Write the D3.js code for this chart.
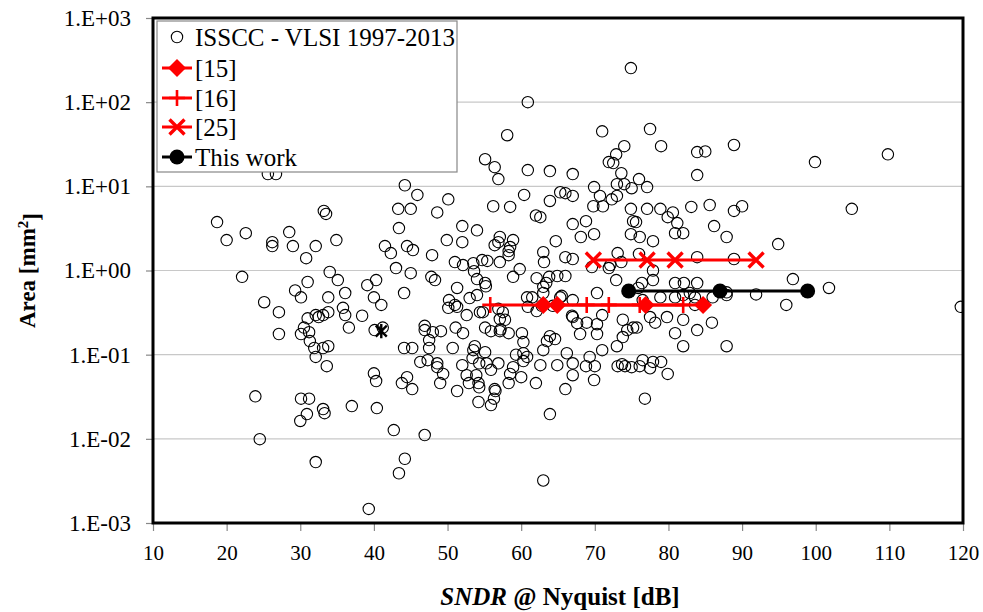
<!DOCTYPE html>
<html>
<head>
<meta charset="utf-8">
<script src="https://cdn.jsdelivr.net/npm/d3@7"></script>
<style>
  body { margin: 0; background: #fff; }
  svg { display: block; }
  text { font-family: "Liberation Serif", "Times New Roman", serif; fill: #000; }
</style>
</head>
<body>
<svg id="chart" width="983" height="612"></svg>
<script>
// Axis ticks
const xTicks = [10, 20, 30, 40, 50, 60, 70, 80, 90, 100, 110, 120];
const yTicks = [1e-3, 1e-2, 1e-1, 1e0, 1e1, 1e2, 1e3];
const yTickLabels = ["1.E-03", "1.E-02", "1.E-01", "1.E+00", "1.E+01", "1.E+02", "1.E+03"];

// ISSCC / VLSI survey 1997-2013: [SNDR @ Nyquist (dB), area (mm^2)]
const survey = [
  [25.6,14],[26.7,14],[44.2,10.3],[74.9,254],[60.9,100],[58.1,40.5],[71.0,45],[77.5,48],[74.0,30],[79.0,30],
  [55.1,21],[56.4,16.9],[56.9,12.2],[60.9,15.6],[63.9,15.2],[67.0,14],[72.9,24],[71.9,19.4],[72.5,18.9],[73.6,14.3],
  [73.0,10.6],[74.0,10.6],[76.0,12.2],[77.1,9.8],[69.9,9.8],[65.3,8.5],[66.0,8.3],[83.9,25.5],[83.9,13.6],[75.0,9.5],
  [85.0,26],[88.9,31],[99.9,19.4],[109.8,24],
  [45.9,7.9],[43.3,5.4],[45.0,5.4],[43.4,3.19],[33.2,5.1],[33.5,4.7],[18.7,3.76],[20.0,2.3],[22.6,2.78],[28.5,2.86],
  [26.2,2.17],[26.2,1.95],[29.0,1.95],[32.1,1.95],[30.8,1.4],[34.9,2.3],[41.5,1.95],[42.3,1.61],[44.5,1.95],[45.3,1.75],
  [47.9,1.52],[43.0,1.07],[45.0,0.93],[22.1,0.84],[34.0,0.96],[35.1,0.77],[31.0,0.73],[29.3,0.58],[30.1,0.48],[33.8,0.48],
  [36.1,0.54],[39.1,0.67],[40.3,0.77],[40.0,0.48],[41.0,0.39],[44.1,0.54],[47.8,0.84],[25.1,0.42],[27.1,0.32],[27.1,0.176],
  [31.0,0.27],[32.1,0.295],[32.5,0.28],[33.1,0.295],[33.8,0.32],[35.8,0.36],[36.1,0.295],[38.4,0.29],[36.6,0.21],[30.5,0.21],
  [30.1,0.176],[31.2,0.185],[31.3,0.145],[31.9,0.12],[33.1,0.12],[33.8,0.126],[32.1,0.094],[40.1,0.196],[41.2,0.21],[44.1,0.12],
  [45.2,0.12],[46.9,0.22],[46.9,0.196],[47.5,0.149],[47.5,0.12],[46.3,0.082],[48.0,0.185],
  [50.1,7.0],[60.4,7.9],[67.0,7.7],[70.7,7.7],[73.0,7.7],[72.3,7.0],[63.9,6.7],[56.2,5.8],[58.5,5.7],[69.8,5.8],
  [71.1,5.8],[74.9,5.4],[77.1,5.4],[78.9,5.4],[80.6,4.9],[83.1,5.7],[48.6,4.9],[62.0,4.5],[62.6,4.3],[52.0,3.37],
  [54.0,3.0],[67.0,3.56],[68.8,3.86],[75.2,3.86],[75.6,3.76],[79.9,4.3],[81.2,3.66],[49.9,2.3],[52.0,2.17],[57.1,2.5],
  [56.9,2.17],[56.4,2.0],[58.5,1.9],[58.3,1.7],[58.9,2.3],[64.7,2.23],[68.1,2.5],[69.9,2.7],[74.9,2.7],[76.1,2.5],
  [77.9,2.23],[80.9,2.78],[82.0,2.78],[51.0,1.26],[52.1,1.16],[53.5,1.22],[54.7,1.33],[55.4,1.3],[57.1,1.26],[58.3,1.52],
  [63.0,1.65],[63.1,1.26],[66.0,1.44],[67.0,1.37],[73.1,1.61],[72.1,1.16],[71.9,1.07],[73.6,1.26],[69.6,1.1],[76.0,1.57],
  [77.9,1.0],[59.8,1.04],[58.9,0.84],[64.9,0.86],[66.0,0.86],[48.3,0.77],[53.6,0.98],[54.0,0.79],[55.1,0.71],[62.1,0.81],
  [63.4,0.71],[63.8,0.84],[72.9,0.77],[76.4,0.71],[77.9,0.77],[80.9,0.71],[82.1,0.71],[83.9,0.71],[51.3,0.62],[55.2,0.65],
  [63.0,0.64],[63.0,0.54],[65.5,0.5],[67.0,0.445],[70.3,0.54],[75.9,0.62],[76.5,0.445],[78.9,0.48],[80.9,0.48],[82.0,0.51],
  [53.0,0.47],[54.0,0.51],[50.2,0.445],[50.1,0.36],[51.0,0.39],[51.3,0.37],[54.4,0.32],[54.8,0.32],[56.9,0.35],[57.5,0.32],
  [52.6,0.295],[57.8,0.26],[57.1,0.265],[60.8,0.48],[61.5,0.48],[60.9,0.37],[62.1,0.33],[62.8,0.38],[64.3,0.38],[65.3,0.48],
  [66.9,0.29],[67.0,0.28],[67.6,0.237],[68.9,0.24],[70.3,0.23],[71.0,0.295],[73.8,0.26],[75.2,0.21],[74.4,0.196],[75.7,0.21],
  [77.5,0.28],[78.2,0.24],[79.8,0.28],[80.9,0.18],[82.0,0.26],[49.1,0.19],[51.1,0.21],[52.1,0.18],[55.1,0.21],[55.9,0.19],
  [57.1,0.19],[57.2,0.2],[58.3,0.18],[50.7,0.12],[53.7,0.126],[55.1,0.107],[60.1,0.18],[60.3,0.141],[63.5,0.145],[64.6,0.153],
  [63.9,0.166],[68.0,0.176],[70.3,0.176],[73.0,0.126],[73.8,0.162],[69.3,0.094],[66.2,0.104],[60.8,0.094],[59.3,0.1],[82.0,0.126],
  [85.6,6.0],[88.9,5.1],[90.0,5.8],[104.9,5.4],[86.2,3.37],[87.9,2.5],[94.9,2.06],[83.9,1.44],[88.9,1.37],[96.9,0.79],
  [101.8,0.62],[82.9,0.54],[83.6,0.48],[87.9,0.55],[87.9,0.51],[86.0,0.48],[91.9,0.52],[96.0,0.39],[83.6,0.39],[85.9,0.24],
  [83.9,0.196],[87.9,0.126],[119.7,0.37],
  [33.6,0.073],[23.9,0.032],[30.1,0.03],[31.2,0.03],[30.9,0.0197],[30.0,0.0163],[33.1,0.0226],[33.3,0.0202],[37.0,0.0245],[40.0,0.06],
  [40.3,0.0486],[40.4,0.0232],[47.3,0.086],[44.5,0.054],[43.8,0.046],[45.2,0.039],[42.7,0.0127],[46.9,0.0111],[24.5,0.0099],
  [32.1,0.0053],[44.2,0.0058],[43.4,0.0039],[39.3,0.00147],
  [48.6,0.079],[48.6,0.071],[49.4,0.059],[49.0,0.046],[51.3,0.037],[53.5,0.113],[53.4,0.091],[52.0,0.075],[52.6,0.057],[52.9,0.046],
  [53.9,0.057],[54.2,0.046],[54.3,0.041],[54.3,0.079],[55.3,0.079],[55.9,0.066],[56.9,0.079],[56.4,0.039],[56.5,0.037],[56.3,0.03],
  [55.9,0.0252],[54.2,0.0274],[60.3,0.104],[60.3,0.084],[58.9,0.071],[58.5,0.059],[58.3,0.046],[60.0,0.054],[62.6,0.075],[62.0,0.046],
  [64.9,0.075],[66.0,0.039],[67.0,0.079],[67.0,0.057],[63.9,0.0197],[68.8,0.073],[70.0,0.073],[69.9,0.05],[71.0,0.113],[73.1,0.073],
  [73.7,0.077],[74.1,0.073],[75.0,0.071],[76.1,0.073],[76.5,0.086],[77.5,0.069],[77.9,0.082],[79.0,0.082],[79.9,0.059],[76.8,0.03],
  [63.0,0.113],[63.0,0.0032]
];

// Highlighted designs
const ref15Sndr = [63.0, 64.9, 76.9, 84.7];
const ref15Area = [0.39, 0.39, 0.39, 0.39];
const ref16Sndr = [55.8, 68.9, 71.9, 76.1, 82.0];
const ref16Area = [0.39, 0.39, 0.39, 0.39, 0.39];
const ref25Sndr = [69.8, 77.1, 80.9, 91.9];
const ref25Area = [1.33, 1.33, 1.33, 1.33];
const thisWorkSndr = [74.6, 87.0, 98.9];
const thisWorkArea = [0.57, 0.57, 0.57];
const otherMark = [[41.0, 0.19]];

const legendLabels = ["ISSCC - VLSI 1997-2013", "[15]", "[16]", "[25]", "This work"];

const plot = { left: 153, right: 963, top: 18, bottom: 523 };
const RED = "#ff0000";
const SERIF = '"Liberation Serif", "Times New Roman", serif';

const svg = d3.select("#chart");
const x = d3.scaleLinear().domain([10, 120]).range([plot.left, plot.right]);
const y = d3.scaleLog().domain([1e-3, 1e3]).range([plot.bottom, plot.top]);

// Horizontal gridlines at each decade
svg.append("g")
  .selectAll("line")
  .data(yTicks.slice(1, -1))
  .join("line")
  .attr("x1", plot.left).attr("x2", plot.right)
  .attr("y1", d => y(d)).attr("y2", d => y(d))
  .attr("stroke", "#c8c8c8").attr("stroke-width", 1.2);

// Axes
const yAxis = svg.append("g")
  .attr("transform", `translate(${plot.left},0)`)
  .call(d3.axisLeft(y).tickValues(yTicks)
    .tickFormat((d, i) => yTickLabels[i]).tickSize(7).tickPadding(15));
const xAxis = svg.append("g")
  .attr("transform", `translate(0,${plot.bottom})`)
  .call(d3.axisBottom(x).tickValues(xTicks).tickFormat(d3.format("d")).tickSize(8).tickPadding(10));
[yAxis, xAxis].forEach(g => {
  g.select(".domain").remove();
  g.selectAll(".tick line").attr("stroke", "#888").attr("stroke-width", 1.2);
  g.selectAll(".tick text").style("font-family", SERIF).attr("fill", "#000");
});
yAxis.selectAll(".tick text").style("font-size", "23px");
xAxis.selectAll(".tick text").style("font-size", "21px").attr("dy", "0.9em");

// Clip for marks
svg.append("clipPath").attr("id", "plotClip")
  .append("rect")
  .attr("x", plot.left).attr("y", plot.top)
  .attr("width", plot.right - plot.left).attr("height", plot.bottom - plot.top);

const marks = svg.append("g").attr("clip-path", "url(#plotClip)");

// Survey points
marks.append("g")
  .selectAll("circle")
  .data(survey)
  .join("circle")
  .attr("cx", d => x(d[0])).attr("cy", d => y(d[1]))
  .attr("r", 5.7)
  .attr("fill", "none").attr("stroke", "#000").attr("stroke-width", 1.1);

// Other reference (black asterisk)
const star = r => `M${-r},${-r}L${r},${r}M${-r},${r}L${r},${-r}M0,${-r * 1.3}L0,${r * 1.3}`;
marks.append("g")
  .selectAll("path")
  .data(otherMark)
  .join("path")
  .attr("transform", d => `translate(${x(d[0])},${y(d[1])})`)
  .attr("d", star(5.5))
  .attr("stroke", "#000").attr("stroke-width", 2.4).attr("fill", "none");

const line = d3.line().x(d => x(d[0])).y(d => y(d[1]));
const zip = (a, b) => a.map((v, i) => [v, b[i]]);

const symbols = {
  diamond: r => `M0,${-r}L${r},0L0,${r}L${-r},0Z`,
  plus: r => `M${-r},0L${r},0M0,${-r}L0,${r}`,
  cross: r => `M${-r},${-r}L${r},${r}M${-r},${r}L${r},${-r}`
};

function drawSeries(pts, color, lineW, drawMark) {
  const g = marks.append("g");
  g.append("path").attr("d", line(pts))
    .attr("stroke", color).attr("stroke-width", lineW).attr("fill", "none");
  pts.forEach(p => drawMark(g.append("g").attr("transform", `translate(${x(p[0])},${y(p[1])})`)));
}

const markDiamond = (g) => g.append("path").attr("d", symbols.diamond(9)).attr("fill", RED);
const markPlus = (g) => g.append("path").attr("d", symbols.plus(8)).attr("stroke", RED).attr("stroke-width", 2.6).attr("fill", "none");
const markCross = (g) => g.append("path").attr("d", symbols.cross(7.5)).attr("stroke", RED).attr("stroke-width", 3.4).attr("fill", "none");
const markDot = (g) => g.append("circle").attr("r", 7.5).attr("fill", "#000");

drawSeries(zip(ref16Sndr, ref16Area), RED, 3, markPlus);
drawSeries(zip(ref15Sndr, ref15Area), RED, 3, markDiamond);
drawSeries(zip(ref25Sndr, ref25Area), RED, 3, markCross);
drawSeries(zip(thisWorkSndr, thisWorkArea), "#000", 3, markDot);

// Plot frame
svg.append("rect")
  .attr("x", plot.left).attr("y", plot.top)
  .attr("width", plot.right - plot.left).attr("height", plot.bottom - plot.top)
  .attr("fill", "none").attr("stroke", "#000").attr("stroke-width", 3);

// Legend
const lg = svg.append("g");
lg.append("rect").attr("x", 157).attr("y", 21).attr("width", 300).attr("height", 151)
  .attr("fill", "#fff").attr("stroke", "#888").attr("stroke-width", 1.2);
const rowY = [37, 68, 98, 127, 157];
const mk = [
  g => g.append("circle").attr("r", 5.7).attr("fill", "none").attr("stroke", "#000").attr("stroke-width", 1.1),
  markDiamond, markPlus, markCross, markDot
];
legendLabels.forEach((lab, i) => {
  const row = lg.append("g").attr("transform", `translate(0,${rowY[i]})`);
  if (i > 0) {
    row.append("line").attr("x1", 162).attr("x2", 192).attr("y1", 0).attr("y2", 0)
      .attr("stroke", i === 4 ? "#000" : RED).attr("stroke-width", 3);
  }
  mk[i](row.append("g").attr("transform", "translate(177,0)"));
  row.append("text").attr("x", 195).attr("y", 0).attr("dy", "0.35em")
    .style("font-size", "25px").text(lab);
});

// Axis titles
svg.append("text")
  .attr("transform", `translate(35,${(plot.top + plot.bottom) / 2}) rotate(-90)`)
  .attr("text-anchor", "middle")
  .style("font-size", "23px").style("font-weight", "bold")
  .call(t => {
    t.append("tspan").text("Area [mm");
    t.append("tspan").attr("dy", "-0.45em").style("font-size", "15px").text("2");
    t.append("tspan").attr("dy", "0.45em").text("]");
  });

svg.append("text")
  .attr("x", 560).attr("y", 605)
  .attr("text-anchor", "middle")
  .style("font-size", "25px").style("font-weight", "bold")
  .call(t => {
    t.append("tspan").style("font-style", "italic").text("SNDR");
    t.append("tspan").text(" @ Nyquist [dB]");
  });
</script>
</body>
</html>
